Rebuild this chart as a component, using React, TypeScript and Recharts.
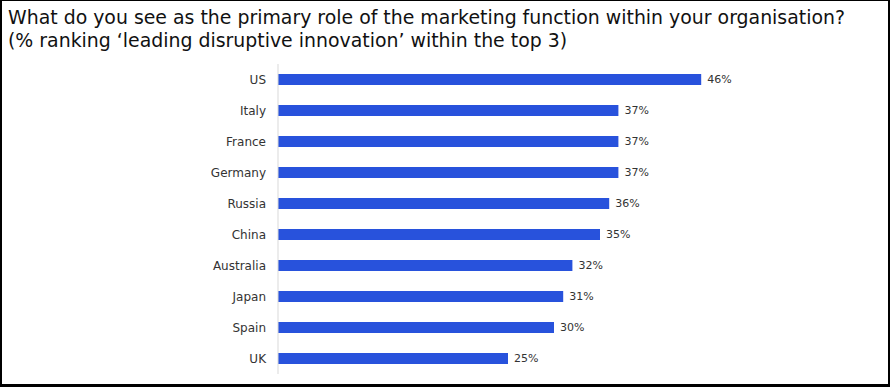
import React from 'react';
import { BarChart, Bar, XAxis, YAxis, LabelList } from 'recharts';

const countries = ['US', 'Italy', 'France', 'Germany', 'Russia', 'China', 'Australia', 'Japan', 'Spain', 'UK'];
const values = [46, 37, 37, 37, 36, 35, 32, 31, 30, 25];
const titleLines = [
  'What do you see as the primary role of the marketing function within your organisation?',
  '(% ranking \u2018leading disruptive innovation\u2019 within the top 3)',
];

const data = countries.map((name, i) => ({ name, value: values[i] }));

const FONT = 'Verdana, "DejaVu Sans", sans-serif';

export default function App() {
  return (
    <>
      <style>{'html,body{margin:0;padding:0;background:#fff;}'}</style>
      <div
        style={{
          position: 'relative',
          width: 890,
          height: 387,
          boxSizing: 'border-box',
          background: '#fff',
        }}
      >
        <div
          style={{
            position: 'absolute',
            left: 8,
            top: 6,
            fontFamily: FONT,
            fontSize: 18.9,
            lineHeight: '23px',
            color: '#111',
            whiteSpace: 'nowrap',
          }}
        >
          {titleLines.map((t, i) => (
            <div key={i}>{t}</div>
          ))}
        </div>
        <div style={{ position: 'absolute', left: 0, top: 0 }}>
          <BarChart
            width={890}
            height={387}
            data={data}
            layout="vertical"
            margin={{ top: 64, right: 152, bottom: 13, left: 0 }}
            barCategoryGap={0}
          >
            <XAxis type="number" domain={[0, 50]} hide />
            <YAxis
              type="category"
              dataKey="name"
              width={278}
              tickLine={false}
              axisLine={{ stroke: '#d9d9d9' }}
              tickSize={6}
              tickMargin={6}
              tick={{ fontSize: 12, fill: '#333', fontFamily: FONT }}
              interval={0}
            />
            <Bar dataKey="value" fill="#2852DC" barSize={11} isAnimationActive={false}>
              <LabelList
                dataKey="value"
                position="right"
                offset={6}
                formatter={(v: any) => `${v}%`}
                style={{ fontSize: 11, fill: '#333', fontFamily: FONT }}
              />
            </Bar>
          </BarChart>
        </div>
        <div
          style={{
            position: 'absolute',
            left: 0,
            top: 0,
            width: 890,
            height: 387,
            boxSizing: 'border-box',
            borderTop: '1px solid #000',
            borderLeft: '2px solid #000',
            borderRight: '2px solid #000',
            borderBottom: '3px solid #000',
            pointerEvents: 'none',
          }}
        />
      </div>
    </>
  );
}
